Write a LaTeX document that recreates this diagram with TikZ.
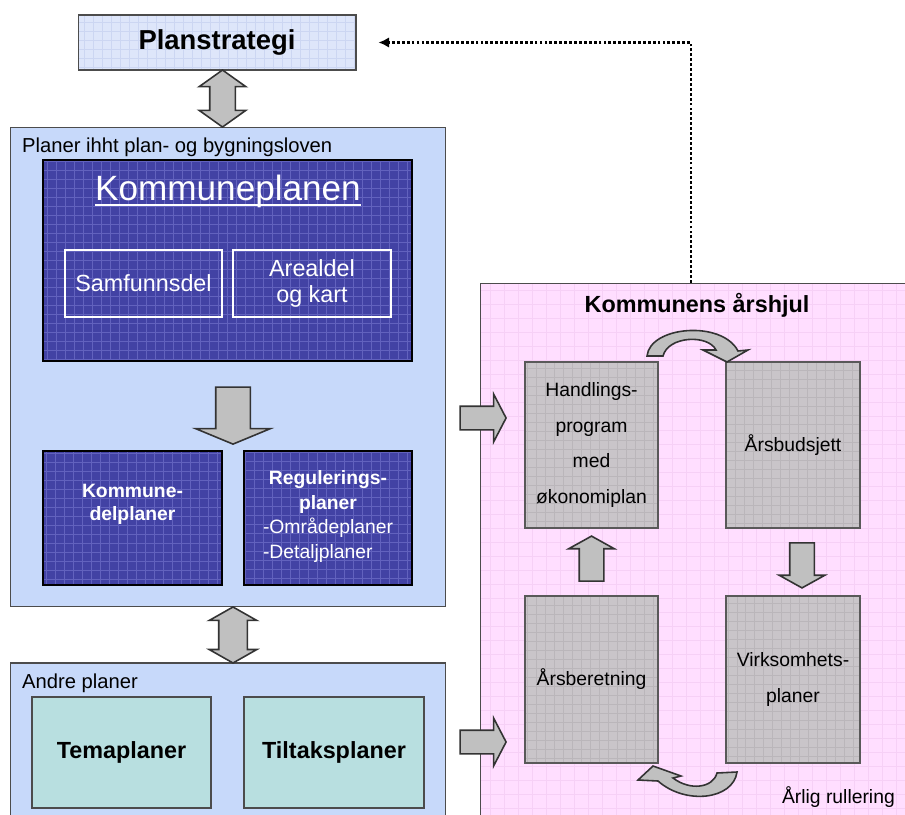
\documentclass[tikz,border=0pt]{standalone}
\usepackage{fontspec}
\setmainfont{Liberation Sans}
\usetikzlibrary{arrows.meta,calc,shapes.arrows}
\definecolor{panelblue}{RGB}{199,217,250}
\definecolor{stratblue}{RGB}{222,230,250}
\definecolor{stratgrid}{RGB}{204,214,242}
\definecolor{kblue}{RGB}{66,66,164}
\definecolor{kgrid}{RGB}{98,98,190}
\definecolor{tealfill}{RGB}{184,223,224}
\definecolor{pinkfill}{RGB}{255,222,255}
\definecolor{pinkgrid}{RGB}{246,208,246}
\definecolor{boxgray}{RGB}{201,197,201}
\definecolor{graygrid}{RGB}{186,182,186}
\definecolor{arrowgray}{RGB}{192,192,192}
\newcommand{\thickuline}[1]{\setbox0\hbox{#1}\rlap{\copy0}\raisebox{-3.6pt}{\rule{\wd0}{1.3pt}}}
\newcommand{\txtlabel}{\fontsize{11.5}{14}\selectfont}
\newcommand{\txtsmall}{\fontsize{11}{20.4}\selectfont}
\newcommand{\txtbold}{\fontsize{11}{13.5}\selectfont\bfseries}
\newcommand{\txtmid}{\fontsize{13.3}{15.3}\selectfont}
\newcommand{\txthuge}{\fontsize{20}{24}\selectfont}
\tikzset{
  gridded/.style 2 args={path picture={\draw[#1,line width=0.35pt]
      (path picture bounding box.south west) grid[step=#2]
      (path picture bounding box.north east);}},
  panel/.style={draw=black!70,line width=0.6pt,fill=panelblue,inner sep=0pt},
  stratbox/.style={draw=black!70,line width=0.6pt,fill=stratblue,
    gridded={stratgrid}{0.18cm},font=\fontsize{15.6}{18}\selectfont\bfseries},
  kbox/.style={draw=black,line width=1.2pt,fill=kblue,gridded={kgrid}{0.18cm},
    text=white,align=center,inner sep=0pt},
  subbox/.style={draw=white,line width=1.2pt,text=white,align=center,
    font=\txtmid,inner sep=0pt},
  tealbox/.style={draw=black!70,line width=0.7pt,fill=tealfill,
    font=\txtmid\bfseries,inner sep=0pt},
  pinkbox/.style={draw=black!70,line width=0.6pt,fill=pinkfill,
    gridded={pinkgrid}{0.28cm},inner sep=0pt},
  graybox/.style={draw=black!65,line width=0.8pt,fill=boxgray,
    gridded={graygrid}{0.18cm},align=center,font=\txtsmall,inner sep=0pt},
  blockarrow/.style={draw=black!80,line width=0.9pt,fill=arrowgray,inner sep=0pt},
  dotconn/.style={line width=1.4pt,dash pattern=on 1.6pt off 1.2pt,
    -{Latex[length=6pt,width=6pt]}}
}

\begin{document}
\begin{tikzpicture}[x=0.02cm,y=-0.02cm]
\useasboundingbox (0,0) rectangle (905,814);
\clip (0,0) rectangle (905,814);

% plan strategy
\node[stratbox,minimum width=5.56cm,minimum height=1.1cm] (strategi) at (217,42.5) {Planstrategi};

% plans under the planning act
\node[panel,minimum width=8.72cm,minimum height=9.6cm] (planer) at (228,367) {};
\node[anchor=west,font=\txtlabel] (planertxt) at (16,147) {Planer ihht plan- og bygningsloven};
\node[kbox,minimum width=7.38cm,minimum height=4.02cm] (kplan) at (227.5,260.5) {};
\node[font=\txthuge,text=white] (kplantxt) at (228,191) {\thickuline{Kommuneplanen}};
\node[subbox,minimum width=3.14cm,minimum height=1.34cm] (samf) at (143.5,283.5) {Samfunnsdel};
\node[subbox,minimum width=3.16cm,minimum height=1.34cm] (areal) at (312,283.5) {Arealdel\\og kart};
\node[kbox,font=\txtbold,minimum width=3.58cm,minimum height=2.68cm] (kdel) at (132.5,518) {Kommune-\\delplaner\\[0.15cm]};
\node[kbox,font=\fontsize{11}{14}\selectfont,minimum width=3.36cm,minimum height=2.68cm] (regul) at (328,518)
  {\textbf{Regulerings-}\\\textbf{planer}\\\begin{tabular}[t]{@{}l@{}}-Områdeplaner\\-Detaljplaner\end{tabular}};

% other plans
\node[panel,minimum width=8.72cm,minimum height=3.34cm] (andre) at (228,746.5) {};
\node[anchor=west,font=\txtlabel] (andretxt) at (16,683) {Andre planer};
\node[tealbox,minimum width=3.58cm,minimum height=2.22cm] (tema) at (121.5,752.5) {Temaplaner};
\node[tealbox,minimum width=3.6cm,minimum height=2.22cm] (tiltak) at (334,752.5) {Tiltaksplaner};

% annual cycle
\node[pinkbox,minimum width=8.8cm,minimum height=10.94cm] (aarshjul) at (700,556.5) {};
\node[font=\txtmid\bfseries] (aarshjultxt) at (697,305) {Kommunens årshjul};
\node[graybox,minimum width=2.66cm,minimum height=3.32cm] (hprog) at (591.5,445) {Handlings-\\program\\med\\økonomiplan};
\node[graybox,minimum width=2.68cm,minimum height=3.32cm] (budsj) at (793,445) {Årsbudsjett};
\node[graybox,minimum width=2.66cm,minimum height=3.34cm] (beretn) at (591.5,679.5) {Årsberetning};
\node[graybox,minimum width=2.68cm,minimum height=3.34cm] (virks) at (793,679.5) {Virksomhets-\\planer};
\node[anchor=east,font=\txtsmall] (rull) at (901,797) {Årlig rullering};

% block arrows
\node[blockarrow,double arrow,rotate=90,minimum height=1.14cm,inner ysep=0.24cm,
  double arrow head extend=0.21cm,double arrow tip angle=109] (dblA) at ($(strategi.south)!0.5!(planer.north)$) {};
\node[blockarrow,single arrow,rotate=-90,minimum height=1.14cm,inner ysep=0.33cm,
  single arrow head extend=0.4cm,single arrow tip angle=135] (downK) at ($(kplan.south)+(5.5,50)$) {};
\node[blockarrow,double arrow,rotate=90,minimum height=1.12cm,inner ysep=0.27cm,
  double arrow head extend=0.19cm,double arrow tip angle=121] (dblB) at ($(planer.south)!0.5!(andre.north)+(5,0)$) {};
\node[blockarrow,single arrow,minimum height=0.92cm,inner ysep=0.22cm,
  single arrow head extend=0.24cm,single arrow tip angle=125] (rightA) at (480,418) {};
\node[blockarrow,single arrow,minimum height=0.92cm,inner ysep=0.22cm,
  single arrow head extend=0.24cm,single arrow tip angle=125] (rightB) at (480,742) {};
\node[blockarrow,single arrow,rotate=90,minimum height=0.9cm,inner ysep=0.23cm,
  single arrow head extend=0.21cm,single arrow tip angle=122] (upP) at ($(beretn.north)!0.5!(hprog.south)$) {};
\node[blockarrow,single arrow,rotate=-90,minimum height=0.9cm,inner ysep=0.23cm,
  single arrow head extend=0.21cm,single arrow tip angle=122] (downP) at ($(budsj.south)!0.5!(virks.north)+(9,0)$) {};

% curved arrows of the cycle
\filldraw[blockarrow] (647,356) .. controls (650,326) and (722,320) .. (738,351)
  -- (748,350) -- (727,362) -- (703,350) -- (716,350)
  .. controls (708,334) and (668,336) .. (663,356) -- cycle;
\filldraw[blockarrow] (737,772) .. controls (733,800) and (685,805) .. (658,781)
  -- (638,780) -- (653,766) -- (681,776) -- (673,778)
  .. controls (690,791) and (713,788) .. (717,773) -- cycle;

% feedback to the strategy
\draw[dotconn,shorten >=0.44cm] ($(aarshjul.north)+(-9,0)$) |- (strategi.east);
\end{tikzpicture}
\end{document}
